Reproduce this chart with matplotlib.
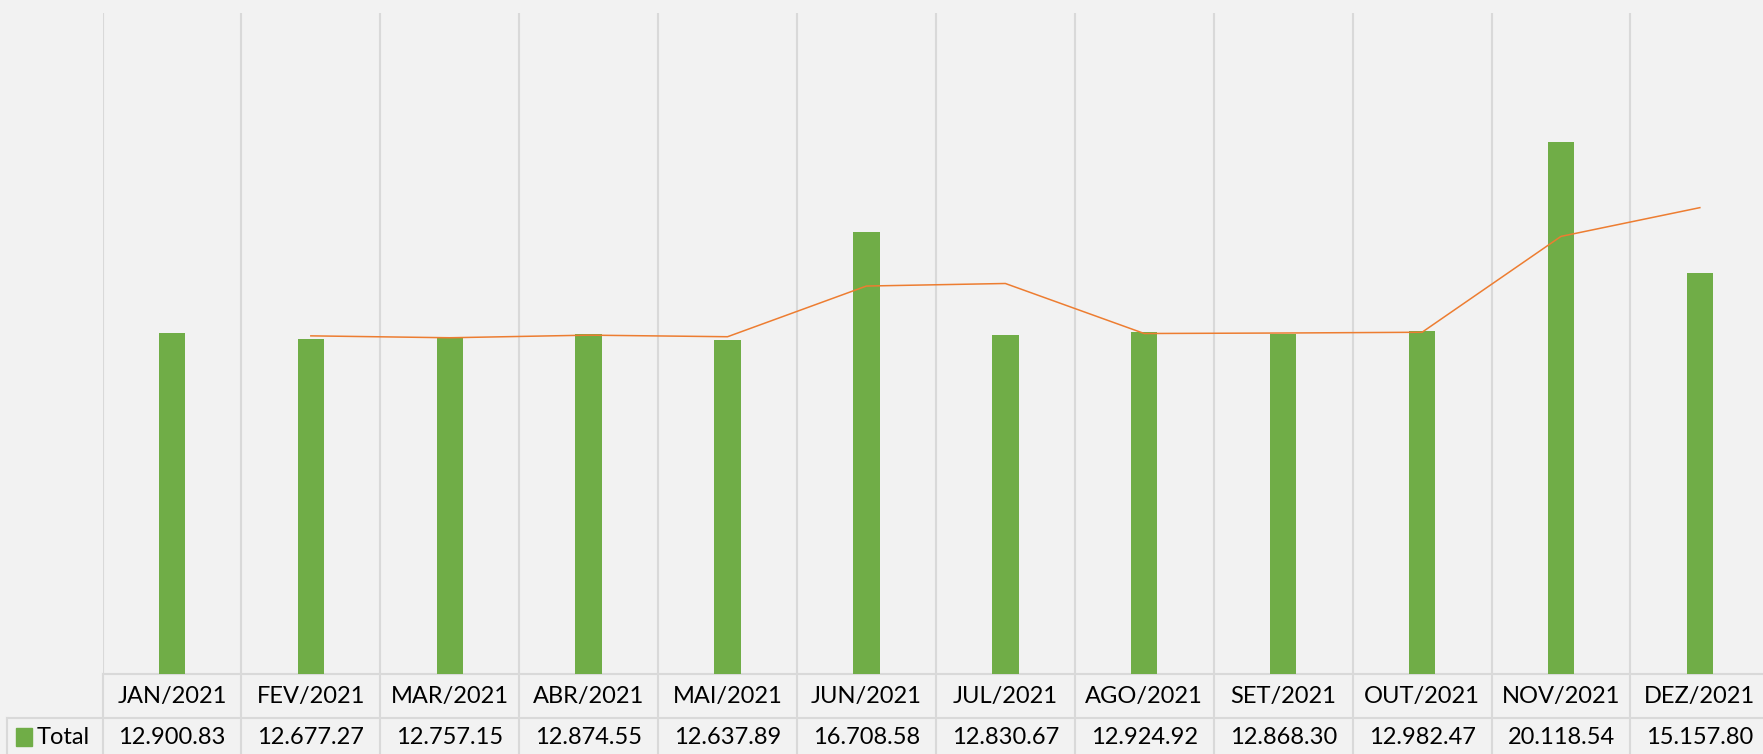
import numpy as np
import matplotlib
matplotlib.use("Agg")
from matplotlib import pyplot as plt

# data
months = ["JAN/2021", "FEV/2021", "MAR/2021", "ABR/2021", "MAI/2021", "JUN/2021",
          "JUL/2021", "AGO/2021", "SET/2021", "OUT/2021", "NOV/2021", "DEZ/2021"]
total = [12900.83, 12677.27, 12757.15, 12874.55, 12637.89, 16708.58,
         12830.67, 12924.92, 12868.30, 12982.47, 20118.54, 15157.80]
value_labels = ["12.900.83", "12.677.27", "12.757.15", "12.874.55", "12.637.89", "16.708.58",
                "12.830.67", "12.924.92", "12.868.30", "12.982.47", "20.118.54", "15.157.80"]
series_name = "Total"

BG = "#F2F2F2"
GREEN = "#70AD47"
ORANGE = "#ED7D31"
GRID = "#D9D9D9"
FONT = "Lato"

W, H = 1763, 754
fig = plt.figure(figsize=[W / 100, H / 100], dpi=100)
fig.patch.set_facecolor(BG)

# plot area in pixels
left_px, col_px = 102.5, 138.9
top_px, base_px = 13, 674
n = len(months)
ax = fig.add_axes([left_px / W, 1 - base_px / H, n * col_px / W, (base_px - top_px) / H])
ax.set_facecolor(BG)

x = np.arange(n)
ax.bar(x, total, width=0.19, color=GREEN, zorder=3)

# 2 period moving average
vals = np.array(total)
ma = (vals[1:] + vals[:-1]) / 2
ax.plot(x[1:], ma, color=ORANGE, lw=1.1, zorder=4)

ax.set_xlim(-0.5, n - 0.5)
ax.set_ylim(0, 25000)
for b in np.arange(n + 1) - 0.5:
    ax.axvline(b, color=GRID, lw=1.5, zorder=1)
for s in ax.spines.values():
    s.set_visible(False)
ax.set_xticks([])
ax.set_yticks([])

# data table below the plot
trans = ax.get_xaxis_transform()
row1_px, row2_px = 718, 760
def fy(py):
    return 1 - py / H

for b in np.arange(n + 1) - 0.5:
    ax.plot([b, b], [0, (base_px - row2_px) / (base_px - top_px)], transform=trans,
            color=GRID, lw=1.5, clip_on=False, zorder=2)
ax.plot([-0.5, n - 0.5], [0, 0], transform=trans, color=GRID, lw=1.5, clip_on=False)
fig.add_artist(plt.Line2D([7 / W, 1.01], [fy(row1_px), fy(row1_px)], color=GRID, lw=1.5))
fig.add_artist(plt.Line2D([7 / W, 7 / W], [fy(row1_px), fy(row2_px)], color=GRID, lw=1.5))

for i in range(n):
    xc = (left_px + (i + 0.5) * col_px) / W
    fig.text(xc, fy(696), months[i], ha="center", va="center", fontsize=17, family=FONT)
    fig.text(xc, fy(737), value_labels[i], ha="center", va="center", fontsize=17, family=FONT)

fig.add_artist(plt.Rectangle((16 / W, fy(746)), 16 / W, 18 / H, color=GREEN))
fig.text(37 / W, fy(737), series_name, ha="left", va="center", fontsize=17, family=FONT)

plt.savefig("out.png", dpi=100, facecolor=BG)
